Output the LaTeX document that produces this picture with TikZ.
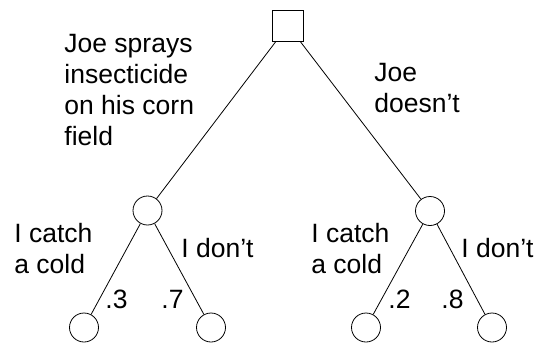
\documentclass[tikz,border=0pt]{standalone}
\usepackage{fontspec}
\setmainfont{Liberation Sans}

\begin{document}
\begin{tikzpicture}[x=1pt,y=-1pt,line width=0.8pt,
        decision/.style={draw,rectangle,minimum size=31pt,inner sep=0pt},
        chance/.style={draw,circle,minimum size=29pt,inner sep=0pt},
        lbl/.style={anchor=base west,align=left,inner sep=0pt,
            font=\fontsize{26.5}{31}\selectfont}]
        \useasboundingbox (0,0) rectangle (538,343);
        % decision and chance nodes
        \node[decision] (spray) at (288,25.5) {};
        \node[chance] (yes) at (147.5,210.5) {};
        \node[chance] (no) at (430,211) {};
        \node[chance] (yesCold) at (84,327.5) {};
        \node[chance] (yesWell) at (211,327.5) {};
        \node[chance] (noCold) at (366,327.5) {};
        \node[chance] (noWell) at (492,327.5) {};
        \draw (spray) -- (yes);
        \draw (spray) -- (no);
        \draw (yes) -- (yesCold);
        \draw (yes) -- (yesWell);
        \draw (no) -- (noCold);
        \draw (no) -- (noWell);
        % branch texts (base = last line)
        \node[lbl] (sprayTxt) at (64,145) {Joe sprays\\insecticide\\on his corn\\field};
        \node[lbl] (noTxt) at (374,112) {Joe\\doesn't};
        \node[lbl] (yesColdTxt) at (14,273) {I catch\\a cold};
        \node[lbl] (yesWellTxt) at (181,257) {I don't};
        \node[lbl] (noColdTxt) at (311,273) {I catch\\a cold};
        \node[lbl] (noWellTxt) at (461,257) {I don't};
        \node[lbl] (p1) at (105,308) {.3};
        \node[lbl] (p2) at (161,308) {.7};
        \node[lbl] (p3) at (388,308) {.2};
        \node[lbl] (p4) at (441,308) {.8};
    \end{tikzpicture}
\end{document}
